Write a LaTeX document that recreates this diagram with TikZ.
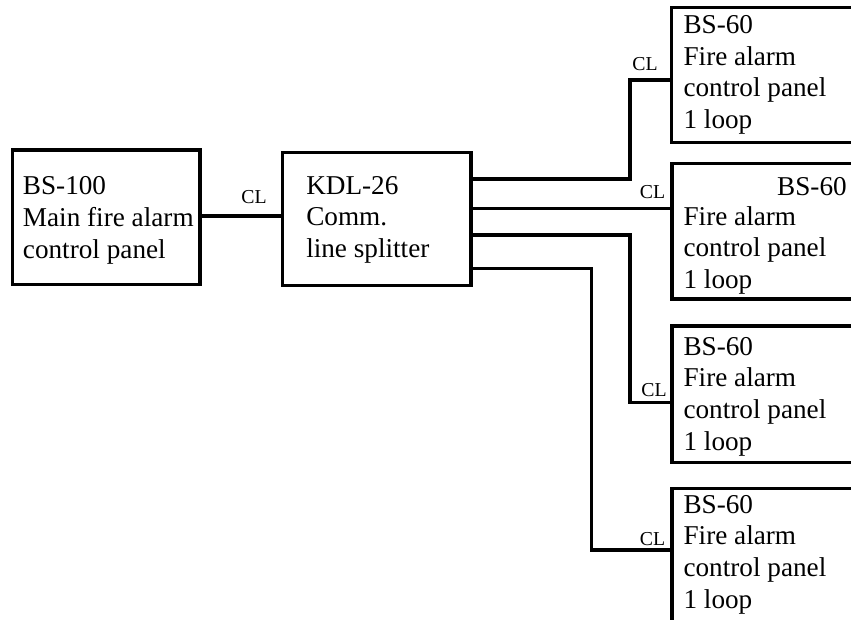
\documentclass[tikz,border=0pt]{standalone}
\usepackage{fontspec}
\setmainfont{Liberation Serif}
\usetikzlibrary{fit}

\begin{document}
\begin{tikzpicture}[
  x=0.75pt, y=-0.75pt,
  panel/.style={draw, line width=2.4pt, inner sep=0pt, rectangle},
  wire/.style={draw, line width=2.4pt},
  txt/.style={inner sep=0pt, align=left, font=\fontsize{20.4pt}{23.75pt}\selectfont},
  cl/.style={inner sep=0pt, font=\fontsize{14.8pt}{16pt}\selectfont}
]
\useasboundingbox (0,0) rectangle (851,619);
\clip (0,0) rectangle (851,619);

% panel frames
\path (12.7,150) coordinate (p1) (200,284.3) coordinate (p2);
\node[panel, fit=(p1)(p2)] (bs100) {};
\path (282.7,152.7) coordinate (k1) (471,285.7) coordinate (k2);
\node[panel, fit=(k1)(k2)] (kdl) {};
\path (671.5,7.3) coordinate (a1) (900,142.3) coordinate (a2);
\node[panel, fit=(a1)(a2)] (b1) {};
\path (672,163.3) coordinate (c1) (900,299) coordinate (c2);
\node[panel, fit=(c1)(c2)] (b2) {};
\path (672,326) coordinate (d1) (900,462.3) coordinate (d2);
\node[panel, fit=(d1)(d2)] (b3) {};
\path (672,488.3) coordinate (e1) (900,680) coordinate (e2);
\node[panel, fit=(e1)(e2)] (b4) {};

% panel texts (placed by the baseline of their last line)
\node[txt, anchor=base west] (bs100t) at (22.7,258) {BS-100\\Main fire alarm\\control panel};
\node[txt, anchor=base west] (kdlt) at (306,257.5) {KDL-26\\Comm.\\line splitter};
\node[txt, anchor=base west] (b1t) at (683.3,128.5) {BS-60\\Fire alarm\\control panel\\1 loop};
\node[txt, anchor=base east] (b2h) at (847,195) {BS-60};
\node[txt, anchor=base west] (b2t) at (683.3,288.5) {Fire alarm\\control panel\\1 loop};
\node[txt, anchor=base west] (b3t) at (683.3,450) {BS-60\\Fire alarm\\control panel\\1 loop};
\node[txt, anchor=base west] (b4t) at (683.3,608) {BS-60\\Fire alarm\\control panel\\1 loop};

% communication lines
\draw[wire] (bs100.east |- 0,216) -- (kdl.west |- 0,216);
\draw[wire] (kdl.east |- 0,179) -| (630,80) -- (b1.west |- 0,80);
\draw[wire] (kdl.east |- 0,208.3) -- (b2.west |- 0,208.3);
\draw[wire] (kdl.east |- 0,235) -| (630,402.7) -- (b3.west |- 0,402.7);
\draw[wire] (kdl.east |- 0,268.3) -| (591.7,550) -- (b4.west |- 0,550);

% line labels
\node[cl, anchor=base] (cl0) at (254,203) {CL};
\node[cl, anchor=base] (cl1) at (645,70) {CL};
\node[cl, anchor=base] (cl2) at (652.5,198) {CL};
\node[cl, anchor=base] (cl3) at (654,396) {CL};
\node[cl, anchor=base] (cl4) at (652.5,545) {CL};
\end{tikzpicture}
\end{document}
